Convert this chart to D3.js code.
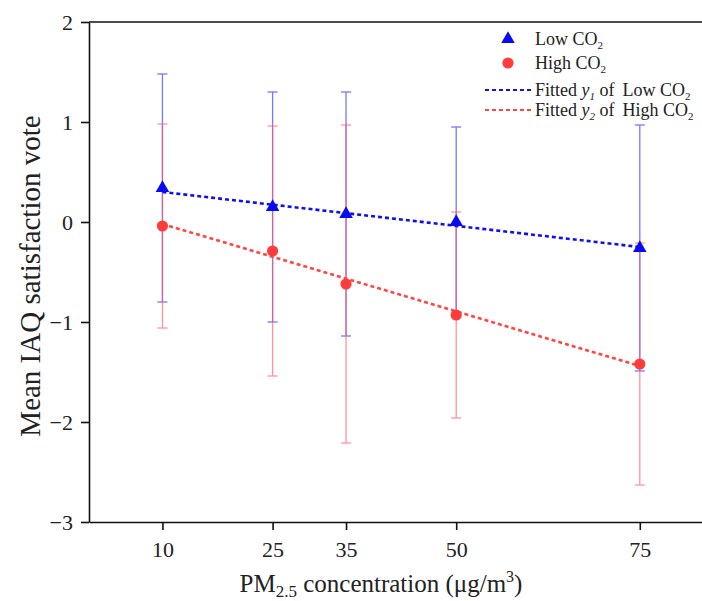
<!DOCTYPE html>
<html>
<head>
<meta charset="utf-8">
<script src="https://cdn.jsdelivr.net/npm/d3@7"></script>
<style>
  body { margin: 0; background: #fff; }
  svg { display: block; }
  svg text { font-family: 'Liberation Serif', 'Times New Roman', serif; }
  .axis path, .axis line { stroke: #111; stroke-width: 1.6; }
  .axis text { fill: #222; }
</style>
</head>
<body>
<svg id="chart" width="702" height="601"></svg>
<script>
// PM2.5 levels (µg/m3)
const pmLevels = [10, 25, 35, 50, 75];
// Low CO2 condition: mean vote and standard deviation
const lowMean = [0.34, 0.15, 0.08, 0.00, -0.26];
const lowSd = [1.14, 1.15, 1.22, 0.95, 1.23];
// High CO2 condition
const highMean = [-0.04, -0.29, -0.62, -0.93, -1.42];
const highSd = [1.02, 1.25, 1.59, 1.03, 1.21];
// fitted lines, read at both ends
const fitX = [10, 75];
const fitLow = [0.30, -0.25];
const fitHigh = [-0.02, -1.44];
const yTicks = [-3, -2, -1, 0, 1, 2];

const svg = d3.select('#chart');
const plotLeft = 89, plotTop = 22, plotBottom = 522;

const x = d3.scaleLinear().domain([0, 85]).range([plotLeft, plotLeft + 85 * 7.344]);
const y = d3.scaleLinear().domain([-3, 2]).range([plotBottom, plotTop]);

// --- Ejes ---
svg.append('g')
  .attr('class', 'axis')
  .attr('transform', `translate(0,${plotBottom})`)
  .call(d3.axisBottom(x).tickValues(pmLevels).tickSize(8).tickPadding(11).tickSizeOuter(0))
  .attr('font-size', 22);

svg.append('g')
  .attr('class', 'axis')
  .attr('transform', `translate(${plotLeft},0)`)
  .call(d3.axisLeft(y).tickValues(yTicks).tickFormat(d3.format('d'))
    .tickSize(8).tickPadding(8).tickSizeOuter(0))
  .attr('font-size', 22);

// top frame line
svg.append('line')
  .attr('x1', plotLeft).attr('x2', 702)
  .attr('y1', plotTop).attr('y2', plotTop)
  .attr('stroke', '#111').attr('stroke-width', 1.6);

// --- Barras de error ---
function errorBars(means, sds, color, opacity) {
  const g = svg.append('g').attr('stroke', color).attr('stroke-width', 1.3).attr('opacity', opacity);
  pmLevels.forEach((p, i) => {
    const hi = y(means[i] + sds[i]), lo = y(means[i] - sds[i]), cx = x(p);
    g.append('line').attr('x1', cx).attr('x2', cx).attr('y1', hi).attr('y2', lo);
    g.append('line').attr('x1', cx - 5).attr('x2', cx + 5).attr('y1', hi).attr('y2', hi);
    g.append('line').attr('x1', cx - 5).attr('x2', cx + 5).attr('y1', lo).attr('y2', lo);
  });
}
errorBars(lowMean, lowSd, '#4a4aff', 0.75);
errorBars(highMean, highSd, '#ff5a6a', 0.65);

// --- Rectas ajustadas ---
const line = d3.line().x(d => x(d[0])).y(d => y(d[1]));
svg.append('path')
  .attr('d', line(fitX.map((v, i) => [v, fitLow[i]])))
  .attr('fill', 'none').attr('stroke', '#1010ee').attr('stroke-width', 2.6)
  .attr('stroke-dasharray', '4,3');
svg.append('path')
  .attr('d', line(fitX.map((v, i) => [v, fitHigh[i]])))
  .attr('fill', 'none').attr('stroke', '#ff4545').attr('stroke-width', 2.6)
  .attr('stroke-dasharray', '4,3');

// --- Marcadores ---
const tri = d3.symbol(d3.symbolTriangle, 80);
svg.append('g').selectAll('path')
  .data(pmLevels)
  .enter().append('path')
  .attr('d', tri)
  .attr('transform', (d, i) => `translate(${x(d)},${y(lowMean[i])})`)
  .attr('fill', '#0a0af0');

svg.append('g').selectAll('circle')
  .data(pmLevels)
  .enter().append('circle')
  .attr('cx', d => x(d))
  .attr('cy', (d, i) => y(highMean[i]))
  .attr('r', 5.6)
  .attr('fill', '#ff3b3b');

// --- Leyenda ---
const leg = svg.append('g').attr('font-size', 18).attr('fill', '#222');
leg.append('path').attr('d', tri).attr('transform', 'translate(508,39)').attr('fill', '#0a0af0');
leg.append('circle').attr('cx', 508).attr('cy', 63).attr('r', 5.6).attr('fill', '#ff3b3b');
leg.append('line').attr('x1', 485).attr('x2', 531).attr('y1', 90).attr('y2', 90)
  .attr('stroke', '#1010ee').attr('stroke-width', 2.2).attr('stroke-dasharray', '4,3');
leg.append('line').attr('x1', 485).attr('x2', 531).attr('y1', 110).attr('y2', 110)
  .attr('stroke', '#ff4545').attr('stroke-width', 2.2).attr('stroke-dasharray', '4,3');

function co2(t, label) {
  t.append('tspan').text(label);
  t.append('tspan').attr('font-size', 11).attr('dy', 4).text('2');
}
co2(leg.append('text').attr('x', 535).attr('y', 45), 'Low CO');
co2(leg.append('text').attr('x', 535).attr('y', 69), 'High CO');

function fitted(yy, idx, label) {
  const t = leg.append('text').attr('x', 535).attr('y', yy);
  t.append('tspan').text('Fitted ');
  t.append('tspan').attr('font-style', 'italic').text('y');
  t.append('tspan').attr('font-style', 'italic').attr('font-size', 11).attr('dy', 4).text(idx);
  t.append('tspan').attr('dy', -4).text(' of');
  t.append('tspan').attr('dx', 8).text(label);
  t.append('tspan').attr('font-size', 11).attr('dy', 4).text('2');
}
fitted(96, '1', 'Low CO');
fitted(116, '2', 'High CO');

// --- Títulos de ejes ---
const xt = svg.append('text')
  .attr('x', 381).attr('y', 592)
  .attr('text-anchor', 'middle')
  .attr('font-size', 25).attr('fill', '#222');
xt.append('tspan').text('PM');
xt.append('tspan').attr('font-size', 17).attr('dy', 5).text('2.5');
xt.append('tspan').attr('dy', -5).text(' concentration (μg/m');
xt.append('tspan').attr('font-size', 16).attr('dy', -10).text('3');
xt.append('tspan').attr('dy', 10).text(')');

svg.append('text')
  .attr('transform', 'translate(40,276) rotate(-90)')
  .attr('text-anchor', 'middle')
  .attr('font-size', 29).attr('fill', '#222')
  .text('Mean IAQ satisfaction vote');
</script>
</body>
</html>
